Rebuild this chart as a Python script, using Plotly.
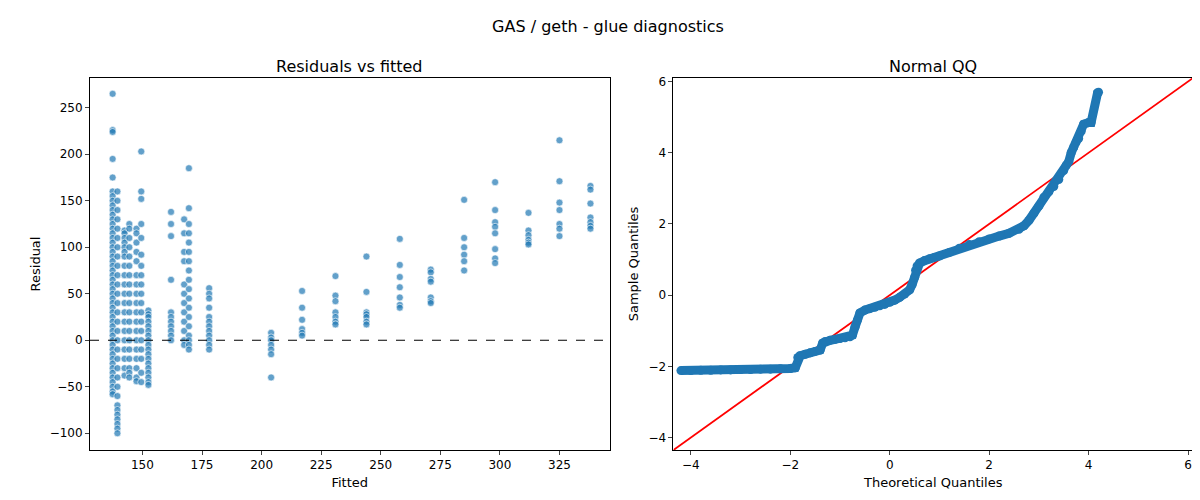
import plotly.graph_objects as go
from plotly.subplots import make_subplots

# Residuals vs fitted: fitted column values and residuals at each
fit_137 = 137.5
res_137 = [265,226,224,195,175,160,155,150,145,140,135,130,125,120,115,110,105,100,95,90,85,80,75,70,65,60,55,50,45,40,35,30,25,20,15,10,5,0,-5,-10,-15,-20,-25,-30,-35,-40,-45,-50,-55,-58]
fit_139 = 139.5
res_139 = [160,150,140,130,120,110,100,90,80,70,60,50,40,30,20,10,0,-10,-20,-30,-40,-50,-60,-70,-75,-80,-85,-90,-95,-100]
fit_142 = 142.5
res_142 = [118,115,110,105,100,95,90,80,70,60,50,40,30,20,10,0,-10,-20,-30,-38]
fit_144 = 144.5
res_144 = [125,120,110,100,90,80,70,60,50,40,30,20,10,0,-10,-20,-30,-35,-40]
fit_147 = 147.5
res_147 = [120,115,105,95,85,70,60,50,40,30,20,10,0,-10,-20,-30,-40,-44]
fit_149 = 149.5
res_149 = [203,160,152,125,110,92,80,70,60,50,40,30,20,10,0,-10,-20,-35,-45]
fit_152 = 152.5
res_152 = [32,28,25,20,15,10,5,0,-5,-10,-15,-20,-25,-30,-35,-40,-45,-48]
fit_162 = 162
res_162 = [138,125,112,65,30,25,20,15,10,5,0]
fit_167 = 167.5
res_167 = [130,115,95,85,60,50,40,30,20,10,0,-5]
fit_169 = 169.5
res_169 = [185,142,125,115,105,95,85,75,65,55,45,35,25,15,5,0,-5,-10]
fit_178 = 178
res_178 = [56,50,45,35,25,20,15,10,5,0,-5,-10]
fit_204 = 204
res_204 = [8,3,0,-5,-10,-15,-40]
fit_217 = 217
res_217 = [53,35,22,12,8,5]
fit_231 = 231
res_231 = [69,48,42,30,25,20,17]
fit_244 = 244
res_244 = [90,52,30,28,25,20,17]
fit_258 = 258
res_258 = [109,81,68,57,46,38,35]
fit_271 = 271
res_271 = [76,73,66,63,46,42,40]
fit_285 = 285
res_285 = [151,110,100,92,85,75]
fit_298 = 298
res_298 = [170,140,127,122,115,98,88,83]
fit_312 = 312
res_312 = [137,118,113,108,105,103]
fit_325 = 325
res_325 = [215,171,148,140,125,120,112]
fit_338 = 338
res_338 = [166,162,147,132,127,123,120]

# Normal QQ points (theoretical, sample)
qq_theo = [-4.2,-4.0,-3.8,-3.6,-3.4,-3.2,-3.0,-2.8,-2.6,-2.4,-2.2,-2.0,-1.9,-1.85,-1.8,-1.7,-1.6,-1.5,-1.4,-1.35,-1.3,-1.2,-1.1,-1.0,-0.9,-0.8,-0.75,-0.7,-0.65,-0.6,-0.5,-0.4,-0.3,-0.2,-0.1,0.0,0.1,0.2,0.3,0.4,0.45,0.5,0.52,0.55,0.6,0.7,0.8,0.9,1.0,1.2,1.4,1.6,1.8,2.0,2.2,2.4,2.6,2.7,2.8,2.9,3.0,3.1,3.2,3.3,3.4,3.5,3.55,3.6,3.65,3.7,3.75,3.8,3.85,3.9,4.0,4.05,4.18,4.2]
qq_samp = [-2.12,-2.12,-2.11,-2.11,-2.1,-2.1,-2.09,-2.09,-2.08,-2.08,-2.07,-2.06,-2.04,-1.75,-1.7,-1.66,-1.62,-1.58,-1.54,-1.35,-1.3,-1.27,-1.24,-1.22,-1.2,-1.17,-1.12,-0.9,-0.7,-0.5,-0.42,-0.38,-0.34,-0.3,-0.26,-0.2,-0.14,-0.06,0.03,0.15,0.3,0.5,0.7,0.82,0.9,0.97,1.02,1.06,1.1,1.2,1.32,1.42,1.5,1.58,1.66,1.74,1.85,1.95,2.1,2.3,2.5,2.75,2.9,3.05,3.25,3.5,3.65,3.75,4.0,4.15,4.3,4.4,4.6,4.8,4.85,4.85,5.68,5.7]

clusters = [(fit_137,res_137),(fit_139,res_139),(fit_142,res_142),(fit_144,res_144),(fit_147,res_147),
            (fit_149,res_149),(fit_152,res_152),(fit_162,res_162),(fit_167,res_167),(fit_169,res_169),
            (fit_178,res_178),(fit_204,res_204),(fit_217,res_217),(fit_231,res_231),(fit_244,res_244),
            (fit_258,res_258),(fit_271,res_271),(fit_285,res_285),(fit_298,res_298),(fit_312,res_312),
            (fit_325,res_325),(fit_338,res_338)]
xs, ys = [], []
for f, rs in clusters:
    xs += [f]*len(rs); ys += rs

fig = make_subplots(rows=1, cols=2, subplot_titles=("Residuals vs fitted", "Normal QQ"),
                    horizontal_spacing=0.058)
fig.add_trace(go.Scatter(x=xs, y=ys, mode="markers",
    marker=dict(color="rgba(31,119,180,0.7)", size=7, line=dict(color="white", width=0.6))), 1, 1)
fig.add_trace(go.Scatter(x=[128, 346], y=[0, 0], mode="lines",
    line=dict(color="black", width=1.2, dash="dash")), 1, 1)
fig.add_trace(go.Scatter(x=[-4.35, 6.1], y=[-4.35, 6.1], mode="lines",
    line=dict(color="red", width=1.8)), 1, 2)
fig.add_trace(go.Scatter(x=qq_theo, y=qq_samp, mode="lines+markers",
    line=dict(color="#1f77b4", width=9), marker=dict(color="#1f77b4", size=9)), 1, 2)

ax = dict(showgrid=False, zeroline=False, showline=True, mirror=True, linecolor="black",
          ticks="outside", ticklen=4, tickfont=dict(size=12), title_font=dict(size=13), title_standoff=6)
fig.update_xaxes(ax)
fig.update_yaxes(ax)
fig.update_xaxes(range=[128, 346], tickvals=[150,175,200,225,250,275,300,325], title_text="Fitted", row=1, col=1)
fig.update_yaxes(range=[-118, 282], tickvals=[-100,-50,0,50,100,150,200,250], title_text="Residual", row=1, col=1)
fig.update_xaxes(range=[-4.35, 6.1], tickvals=[-4,-2,0,2,4,6], title_text="Theoretical Quantiles", row=1, col=2)
fig.update_yaxes(range=[-4.35, 6.1], tickvals=[-4,-2,0,2,4,6], title_text="Sample Quantiles", row=1, col=2)
fig.update_layout(width=1200, height=500, showlegend=False, plot_bgcolor="white", paper_bgcolor="white",
    font=dict(family="DejaVu Sans", color="black", size=13),
    title=dict(text="GAS / geth - glue diagnostics", x=0.5, y=0.975, font=dict(size=16)),
    margin=dict(l=82, r=15, t=70, b=58))
for a in fig.layout.annotations:
    a.font = dict(size=16, family="DejaVu Sans")
fig.write_html("out.html")
